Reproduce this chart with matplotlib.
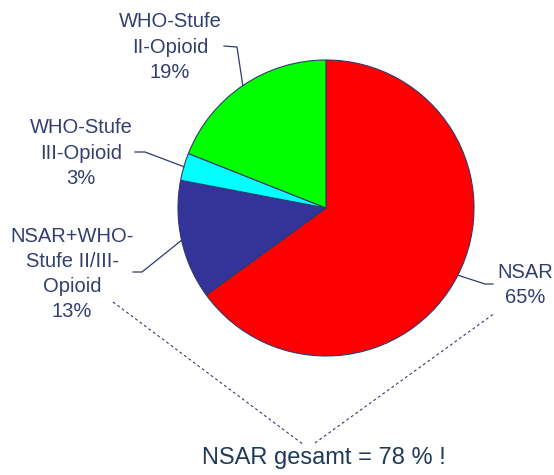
import numpy as np
import matplotlib
matplotlib.use('Agg')
from matplotlib import pyplot as plt

# 数据
labels = ['NSAR', 'NSAR+WHO-\nStufe II/III-\nOpioid', 'WHO-Stufe\nIII-Opioid', 'WHO-Stufe\nII-Opioid']
shares = [65, 13, 3, 19]
colors = ['#FF0000', '#333399', '#00FFFF', '#00FF00']
total_text = 'NSAR gesamt = 78 % !'

plt.rcParams['font.family'] = ['Liberation Sans', 'DejaVu Sans']

W, H = 554, 475
R = 148.0          # 饼图半径(像素)
CX, CY = 326, 208  # 饼图中心(像素)
text_color = '#333F70'


def px(x, y):
    # 像素坐标 -> 数据坐标
    return (x - CX) / R, (CY - y) / R


fig = plt.figure(figsize=(W / 100, H / 100), dpi=100)
ax = fig.add_axes([0, 0, 1, 1])
wedges, _ = ax.pie(shares, colors=colors, startangle=90, counterclock=False, radius=1,
                   wedgeprops=dict(edgecolor='#2E3A6E', linewidth=0.8))
ax.set_aspect('auto')
ax.set_xlim(-CX / R, (W - CX) / R)
ax.set_ylim(-(H - CY) / R, CY / R)
ax.axis('off')

# 标签位置: 拐点, 终点, 文字中心 (像素)
layout = [
    ((485, 284), (493, 284), (525, 285)),
    ((142, 272), (133, 272), (72, 274)),
    ((145, 152), (135, 152), (81, 153)),
    ((237, 47), (224, 46), (170, 47)),
]

for w, lab, val, (elbow, end, tpos) in zip(wedges, labels, shares, layout):
    ang = np.deg2rad((w.theta1 + w.theta2) / 2)
    x0, y0 = np.cos(ang), np.sin(ang)
    ex, ey = px(*elbow)
    nx, ny = px(*end)
    ax.plot([x0, ex, nx], [y0, ey, ny], color='#2E3A6E', lw=0.9)
    tx, ty = px(*tpos)
    ax.text(tx, ty, f'{lab}\n{val}%', ha='center', va='center', fontsize=14.5,
            color=text_color, linespacing=1.42)

# 虚线括号
for (a, b) in [((113, 302), (304, 445)), ((315, 443), (495, 313))]:
    xa, ya = px(*a)
    xb, yb = px(*b)
    ax.plot([xa, xb], [ya, yb], color='#2E3A6E', lw=0.8, dashes=(2.5, 2.5))

bx, by = px(324, 458)
ax.text(bx, by, total_text, ha='center', va='center', fontsize=17, color='#1F3A5A')

fig.savefig('out.png', dpi=100)
